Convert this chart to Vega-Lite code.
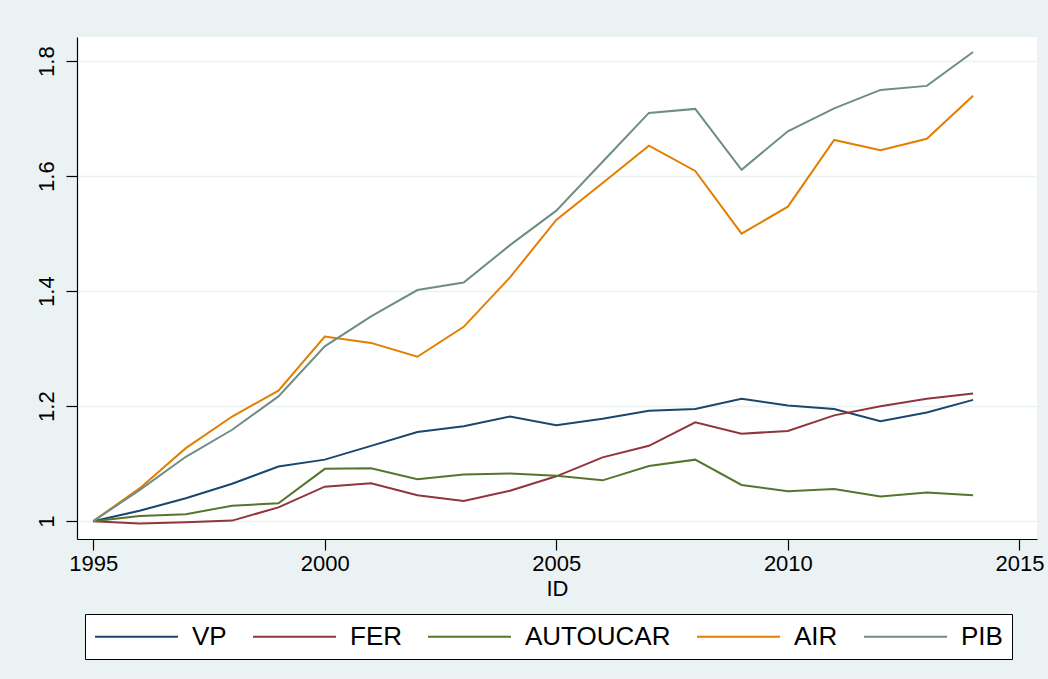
{
  "$schema": "https://vega.github.io/schema/vega-lite/v6.json",
  "width": 960,
  "height": 502,
  "autosize": "none",
  "padding": {"left": 77, "top": 37, "right": 11, "bottom": 140},
  "background": "#eaf2f3",
  "view": {"fill": "white", "stroke": null},
  "config": {
    "font": "Liberation Sans",
    "axis": {"labelFont": "Liberation Sans", "titleFont": "Liberation Sans", "labelColor": "black", "titleColor": "black", "domainColor": "black", "tickColor": "black", "domainWidth": 1.2, "tickWidth": 1.2}
  },
  "data": {"values": [
    {"ID":1995,"s":"VP","v":1.0},{"ID":1996,"s":"VP","v":1.018},{"ID":1997,"s":"VP","v":1.040},{"ID":1998,"s":"VP","v":1.065},{"ID":1999,"s":"VP","v":1.095},{"ID":2000,"s":"VP","v":1.107},{"ID":2001,"s":"VP","v":1.131},{"ID":2002,"s":"VP","v":1.155},{"ID":2003,"s":"VP","v":1.165},{"ID":2004,"s":"VP","v":1.182},{"ID":2005,"s":"VP","v":1.167},{"ID":2006,"s":"VP","v":1.178},{"ID":2007,"s":"VP","v":1.192},{"ID":2008,"s":"VP","v":1.195},{"ID":2009,"s":"VP","v":1.213},{"ID":2010,"s":"VP","v":1.201},{"ID":2011,"s":"VP","v":1.195},{"ID":2012,"s":"VP","v":1.174},{"ID":2013,"s":"VP","v":1.189},{"ID":2014,"s":"VP","v":1.211},
    {"ID":1995,"s":"FER","v":1.0},{"ID":1996,"s":"FER","v":0.996},{"ID":1997,"s":"FER","v":0.998},{"ID":1998,"s":"FER","v":1.001},{"ID":1999,"s":"FER","v":1.024},{"ID":2000,"s":"FER","v":1.060},{"ID":2001,"s":"FER","v":1.066},{"ID":2002,"s":"FER","v":1.045},{"ID":2003,"s":"FER","v":1.035},{"ID":2004,"s":"FER","v":1.053},{"ID":2005,"s":"FER","v":1.078},{"ID":2006,"s":"FER","v":1.111},{"ID":2007,"s":"FER","v":1.131},{"ID":2008,"s":"FER","v":1.172},{"ID":2009,"s":"FER","v":1.152},{"ID":2010,"s":"FER","v":1.157},{"ID":2011,"s":"FER","v":1.184},{"ID":2012,"s":"FER","v":1.200},{"ID":2013,"s":"FER","v":1.213},{"ID":2014,"s":"FER","v":1.222},
    {"ID":1995,"s":"AUTOUCAR","v":1.0},{"ID":1996,"s":"AUTOUCAR","v":1.009},{"ID":1997,"s":"AUTOUCAR","v":1.012},{"ID":1998,"s":"AUTOUCAR","v":1.027},{"ID":1999,"s":"AUTOUCAR","v":1.031},{"ID":2000,"s":"AUTOUCAR","v":1.091},{"ID":2001,"s":"AUTOUCAR","v":1.092},{"ID":2002,"s":"AUTOUCAR","v":1.073},{"ID":2003,"s":"AUTOUCAR","v":1.081},{"ID":2004,"s":"AUTOUCAR","v":1.083},{"ID":2005,"s":"AUTOUCAR","v":1.079},{"ID":2006,"s":"AUTOUCAR","v":1.071},{"ID":2007,"s":"AUTOUCAR","v":1.096},{"ID":2008,"s":"AUTOUCAR","v":1.107},{"ID":2009,"s":"AUTOUCAR","v":1.063},{"ID":2010,"s":"AUTOUCAR","v":1.052},{"ID":2011,"s":"AUTOUCAR","v":1.056},{"ID":2012,"s":"AUTOUCAR","v":1.043},{"ID":2013,"s":"AUTOUCAR","v":1.050},{"ID":2014,"s":"AUTOUCAR","v":1.045},
    {"ID":1995,"s":"AIR","v":1.0},{"ID":1996,"s":"AIR","v":1.057},{"ID":1997,"s":"AIR","v":1.127},{"ID":1998,"s":"AIR","v":1.182},{"ID":1999,"s":"AIR","v":1.227},{"ID":2000,"s":"AIR","v":1.321},{"ID":2001,"s":"AIR","v":1.310},{"ID":2002,"s":"AIR","v":1.286},{"ID":2003,"s":"AIR","v":1.338},{"ID":2004,"s":"AIR","v":1.424},{"ID":2005,"s":"AIR","v":1.524},{"ID":2006,"s":"AIR","v":1.588},{"ID":2007,"s":"AIR","v":1.653},{"ID":2008,"s":"AIR","v":1.609},{"ID":2009,"s":"AIR","v":1.500},{"ID":2010,"s":"AIR","v":1.547},{"ID":2011,"s":"AIR","v":1.663},{"ID":2012,"s":"AIR","v":1.645},{"ID":2013,"s":"AIR","v":1.665},{"ID":2014,"s":"AIR","v":1.740},
    {"ID":1995,"s":"PIB","v":1.0},{"ID":1996,"s":"PIB","v":1.054},{"ID":1997,"s":"PIB","v":1.112},{"ID":1998,"s":"PIB","v":1.159},{"ID":1999,"s":"PIB","v":1.217},{"ID":2000,"s":"PIB","v":1.304},{"ID":2001,"s":"PIB","v":1.356},{"ID":2002,"s":"PIB","v":1.402},{"ID":2003,"s":"PIB","v":1.415},{"ID":2004,"s":"PIB","v":1.480},{"ID":2005,"s":"PIB","v":1.540},{"ID":2006,"s":"PIB","v":1.625},{"ID":2007,"s":"PIB","v":1.710},{"ID":2008,"s":"PIB","v":1.717},{"ID":2009,"s":"PIB","v":1.611},{"ID":2010,"s":"PIB","v":1.678},{"ID":2011,"s":"PIB","v":1.718},{"ID":2012,"s":"PIB","v":1.750},{"ID":2013,"s":"PIB","v":1.757},{"ID":2014,"s":"PIB","v":1.816}
  ]},
  "mark": {"type": "line", "strokeWidth": 2},
  "encoding": {
    "x": {
      "field": "ID", "type": "quantitative",
      "scale": {"domain": [1994.65, 2015.38], "nice": false, "zero": false},
      "axis": {"title": "ID", "values": [1995, 2000, 2005, 2010, 2015], "format": "d", "grid": false, "tickSize": 11, "labelPadding": 3, "labelFontSize": 22, "titleFontSize": 22, "titleFontWeight": "normal", "titlePadding": 4, "labelFlush": false}
    },
    "y": {
      "field": "v", "type": "quantitative",
      "scale": {"domain": [0.969, 1.842], "nice": false, "zero": false},
      "axis": {"title": null, "values": [1, 1.2, 1.4, 1.6, 1.8], "format": ".1~f", "grid": true, "gridColor": "#eaf2f3", "gridWidth": 1.5, "tickSize": 11, "labelAngle": -90, "labelAlign": "center", "labelBaseline": "bottom", "labelPadding": 8, "labelFontSize": 22, "labelFlush": false}
    },
    "color": {
      "field": "s", "type": "nominal",
      "scale": {"domain": ["VP", "FER", "AUTOUCAR", "AIR", "PIB"], "range": ["#1a476f", "#90353b", "#55752f", "#e37e00", "#6e8e84"]},
      "legend": {"orient": "none", "legendX": 8, "legendY": 577, "direction": "horizontal", "columns": 5, "title": null, "symbolType": "M-1,0H5.64", "symbolSize": 625, "symbolStrokeWidth": 2, "labelFontSize": 26, "labelFont": "Liberation Sans", "labelColor": "black", "labelOffset": 71, "columnPadding": 22, "padding": 9, "fillColor": "white", "strokeColor": "black", "labelLimit": 400}
    }
  }
}
